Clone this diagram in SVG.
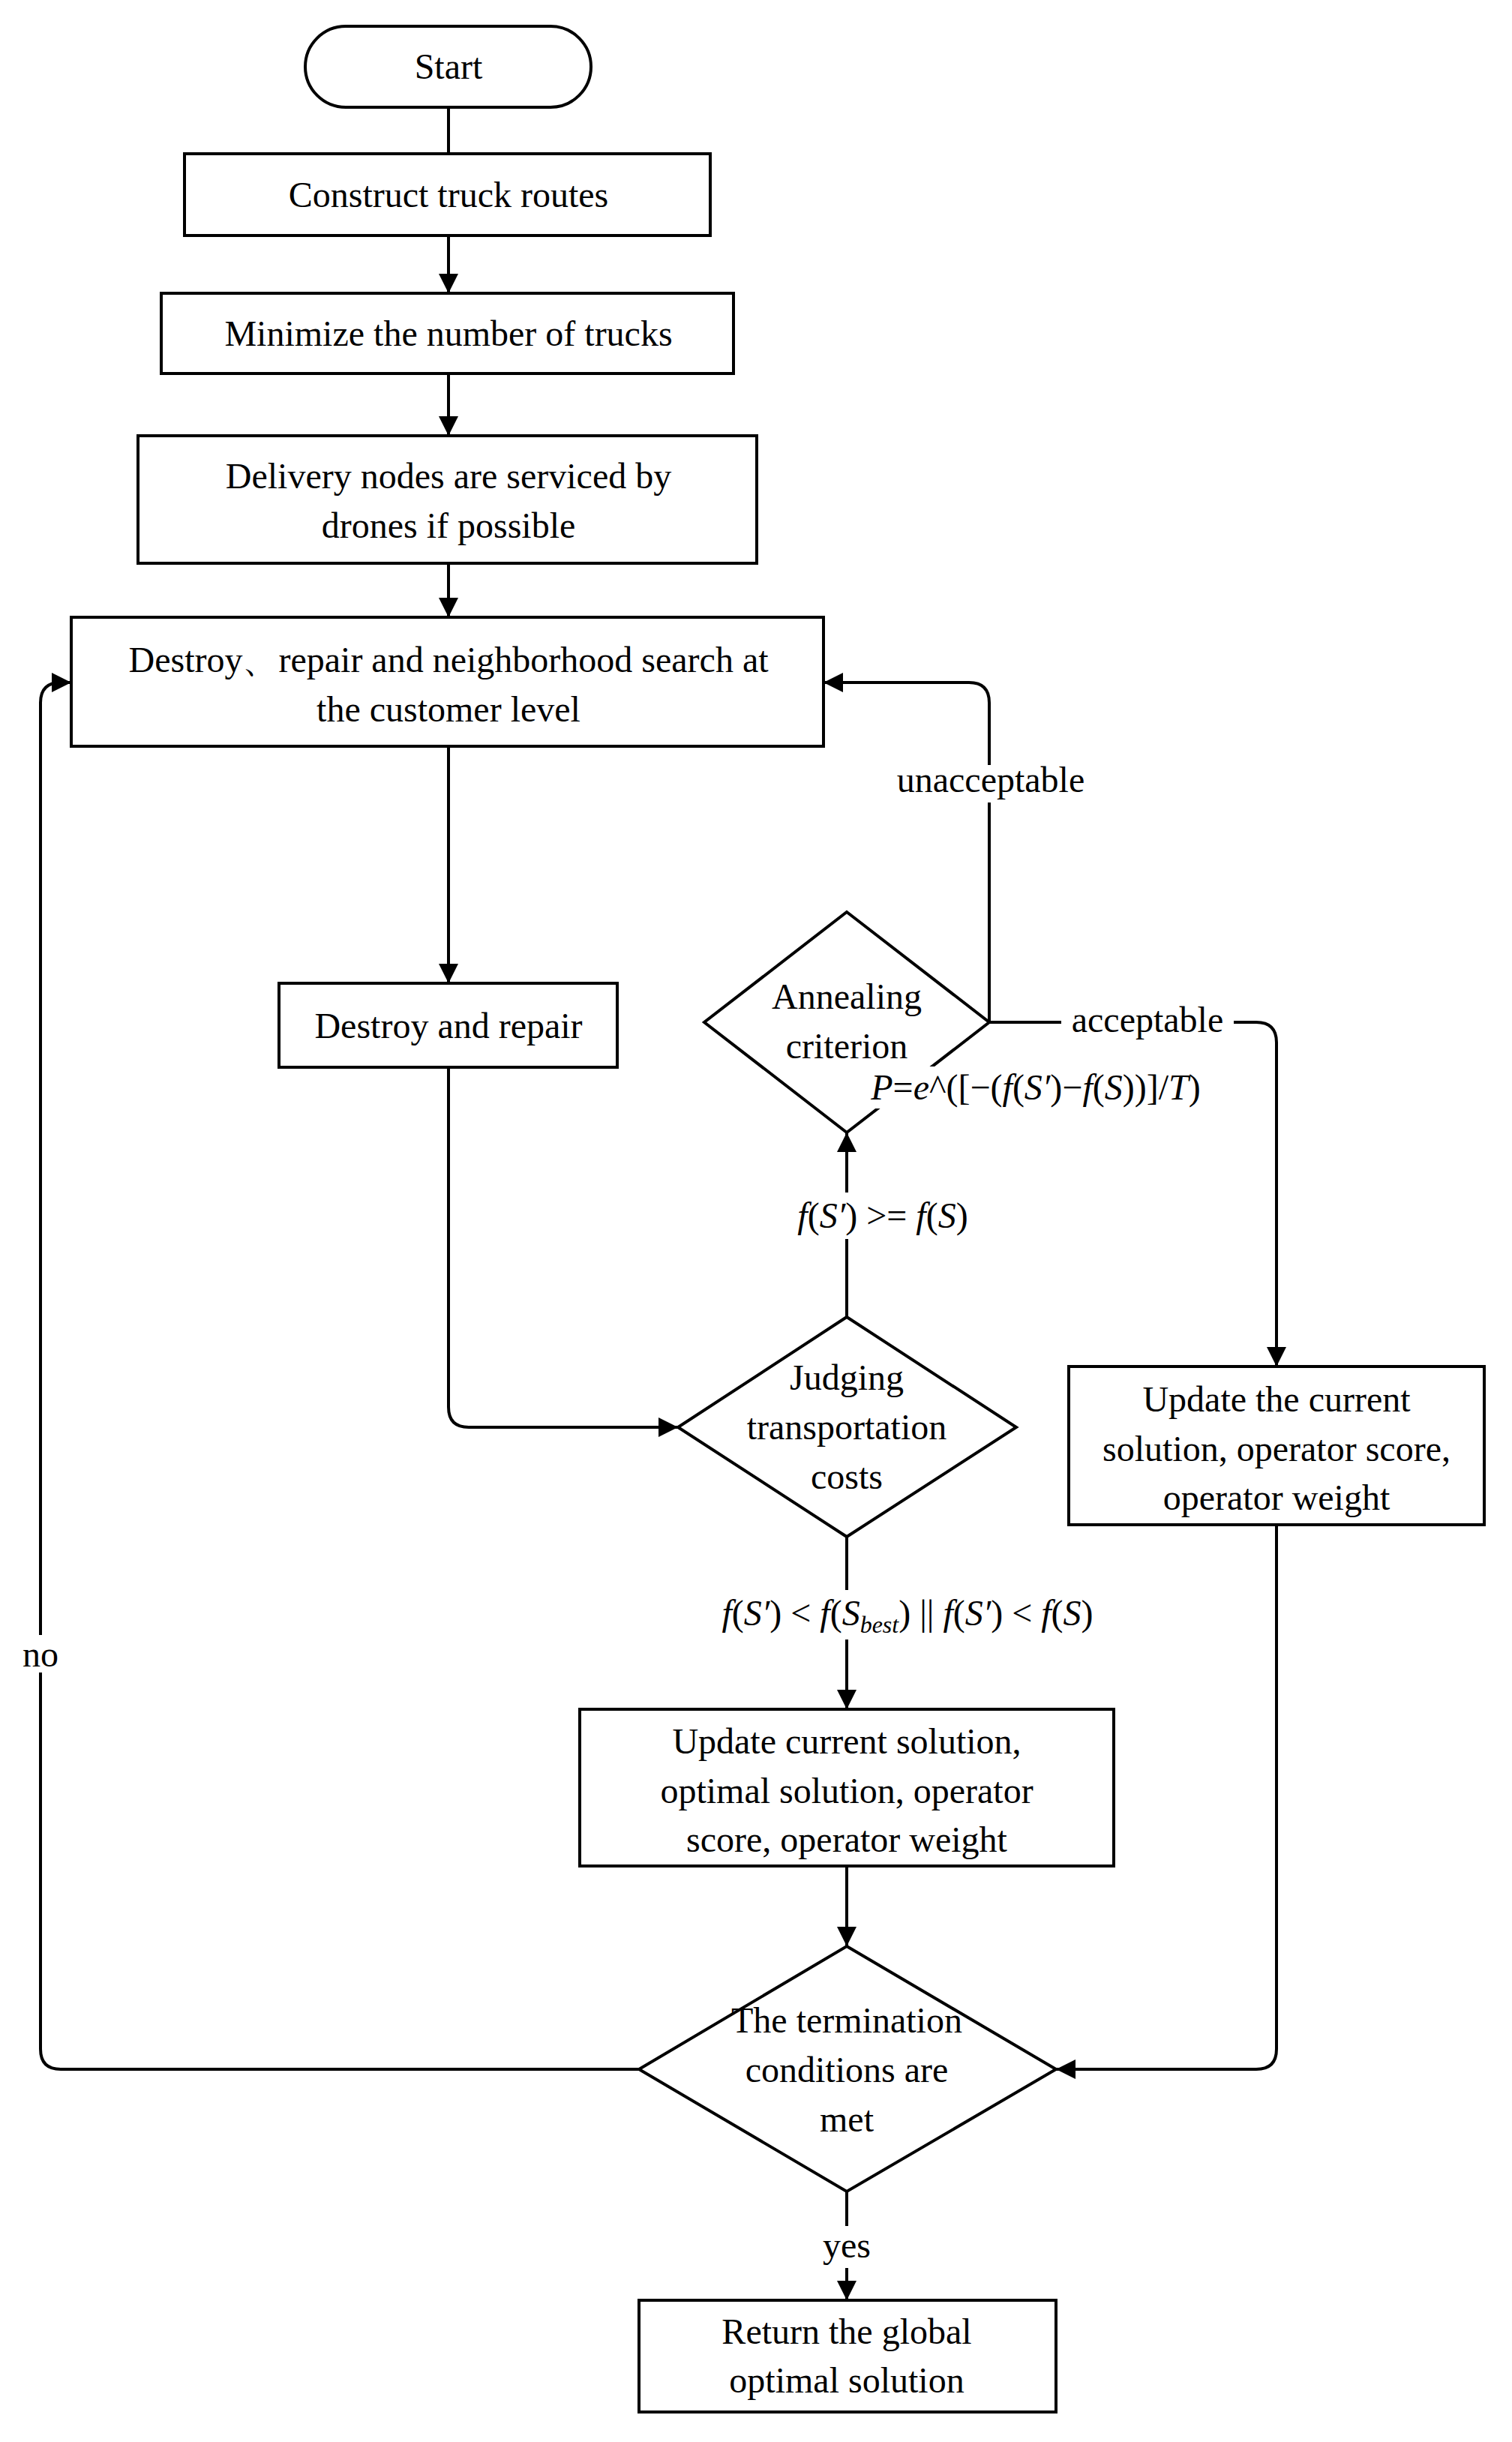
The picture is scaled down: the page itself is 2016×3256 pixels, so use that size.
<svg xmlns="http://www.w3.org/2000/svg" width="2016" height="3256" viewBox="0 0 2016 3256">
<defs>
<marker id="ar" viewBox="0 0 10 10" refX="10" refY="5" markerWidth="26" markerHeight="26" markerUnits="userSpaceOnUse" orient="auto"><path d="M0,0 L10,5 L0,10 z" fill="#000"/></marker>
<style>
.n{fill:#fff;stroke:#000;stroke-width:4}
.c{fill:none;stroke:#000;stroke-width:4}
text{font-family:"Liberation Serif","Times New Roman",serif;font-size:48px;fill:#000;text-anchor:middle}
.i{font-style:italic}
</style>
</defs>
<rect width="2016" height="3256" fill="#fff"/>
<g id="connectors">
<path class="c" d="M598,143 V205"/>
<path class="c" d="M598,314 V391" marker-end="url(#ar)"/>
<path class="c" d="M598,498 V581" marker-end="url(#ar)"/>
<path class="c" d="M598,751 V823" marker-end="url(#ar)"/>
<path class="c" d="M598,995 V1311" marker-end="url(#ar)"/>
<path class="c" d="M598,1423 V1876 Q598,1903 625,1903 H904" marker-end="url(#ar)"/>
<path class="c" d="M1129,1756 V1510" marker-end="url(#ar)"/>
<path class="c" d="M1319,1363 V937 Q1319,910 1292,910 H1098" marker-end="url(#ar)"/>
<path class="c" d="M1319,1363 H1675 Q1702,1363 1702,1390 V1822" marker-end="url(#ar)"/>
<path class="c" d="M1702,2033 V2732 Q1702,2759 1675,2759 H1408" marker-end="url(#ar)"/>
<path class="c" d="M1129,2049 V2279" marker-end="url(#ar)"/>
<path class="c" d="M1129,2488 V2595" marker-end="url(#ar)"/>
<path class="c" d="M852,2759 H81 Q54,2759 54,2732 V937 Q54,910 81,910 H95" marker-end="url(#ar)"/>
<path class="c" d="M1129,2922 V3067" marker-end="url(#ar)"/>
</g>
<g id="start"><rect class="n" x="407" y="35" width="381" height="108" rx="54"/><text x="598" y="105">Start</text></g>
<g id="construct"><rect class="n" x="246" y="205" width="701" height="109"/><text x="598" y="276">Construct truck routes</text></g>
<g id="minimize"><rect class="n" x="215" y="391" width="763" height="107"/><text x="598" y="461">Minimize the number of trucks</text></g>
<g id="delivery"><rect class="n" x="184" y="581" width="825" height="170"/><text x="598" y="651">Delivery nodes are serviced by</text><text x="598" y="717">drones if possible</text></g>
<g id="search"><rect class="n" x="95" y="823" width="1003" height="172"/><text x="598" y="896">Destroy、repair and neighborhood search at</text><text x="598" y="962">the customer level</text></g>
<g id="destroy"><rect class="n" x="372" y="1311" width="451" height="112"/><text x="598" y="1384">Destroy and repair</text></g>
<g id="annealing"><polygon class="n" points="1129,1216 1319,1363 1129,1510 939,1363"/><text x="1129" y="1345">Annealing</text><text x="1129" y="1411">criterion</text></g>
<g id="judging"><polygon class="n" points="1129,1756 1355,1903 1129,2049 904,1903"/><text x="1129" y="1853">Judging</text><text x="1129" y="1919">transportation</text><text x="1129" y="1985">costs</text></g>
<g id="update-right"><rect class="n" x="1425" y="1822" width="554" height="211"/><text x="1702" y="1882">Update the current</text><text x="1702" y="1948">solution, operator score,</text><text x="1702" y="2013">operator weight</text></g>
<g id="update-center"><rect class="n" x="773" y="2279" width="712" height="209"/><text x="1129" y="2338">Update current solution,</text><text x="1129" y="2404">optimal solution, operator</text><text x="1129" y="2469">score, operator weight</text></g>
<g id="termination"><polygon class="n" points="1129,2595 1408,2759 1129,2922 852,2759"/><text x="1129" y="2710">The termination</text><text x="1129" y="2776">conditions are</text><text x="1129" y="2842">met</text></g>
<g id="return"><rect class="n" x="852" y="3067" width="556" height="149"/><text x="1129" y="3125">Return the global</text><text x="1129" y="3190">optimal solution</text></g>
<g id="labels">
<rect x="1160" y="1020" width="330" height="50" fill="#fff"/><text x="1321" y="1056">unacceptable</text>
<rect x="1415" y="1335" width="230" height="55" fill="#fff"/><text x="1530" y="1376">acceptable</text>
<rect x="1135" y="1422" width="495" height="56" fill="#fff"/><text x="1381" y="1466"><tspan class="i">P</tspan>=<tspan class="i">e</tspan>^([−(<tspan class="i">f</tspan>(<tspan class="i">S′</tspan>)−<tspan class="i">f</tspan>(<tspan class="i">S</tspan>))]/<tspan class="i">T</tspan>)</text>
<rect x="1040" y="1590" width="278" height="62" fill="#fff"/><text x="1177" y="1637"><tspan class="i">f</tspan>(<tspan class="i">S′</tspan>) &gt;= <tspan class="i">f</tspan>(<tspan class="i">S</tspan>)</text>
<rect x="920" y="2120" width="580" height="66" fill="#fff"/><text x="1210" y="2167"><tspan class="i">f</tspan>(<tspan class="i">S′</tspan>) &lt; <tspan class="i">f</tspan>(<tspan class="i">S</tspan><tspan class="i" font-size="32" dy="10">best</tspan><tspan dy="-10">)</tspan> || <tspan class="i">f</tspan>(<tspan class="i">S′</tspan>) &lt; <tspan class="i">f</tspan>(<tspan class="i">S</tspan>)</text>
<rect x="20" y="2180" width="68" height="50" fill="#fff"/><text x="54" y="2222">no</text>
<rect x="1090" y="2968" width="78" height="56" fill="#fff"/><text x="1129" y="3010">yes</text>
</g>
</svg>
